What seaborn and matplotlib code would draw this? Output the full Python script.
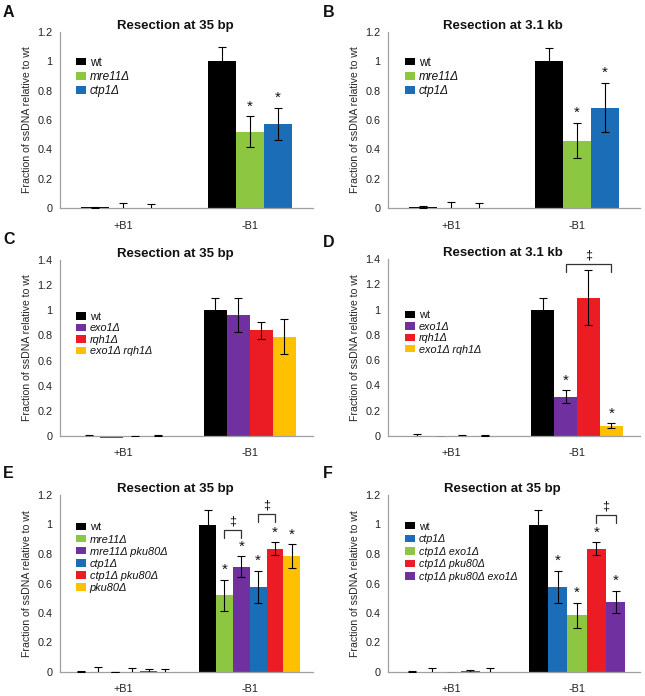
import matplotlib
matplotlib.use("Agg")
import matplotlib.pyplot as plt
from matplotlib.ticker import FuncFormatter, FixedLocator
from matplotlib.patches import Patch
import seaborn as sns
import pandas as pd

groups = ["+B1", "-B1"]

strain_colors = {
    "wt": "#000000",
    "mre11Δ": "#8DC641",
    "ctp1Δ": "#1A6DB6",
    "exo1Δ": "#7030A0",
    "rqh1Δ": "#EC1C24",
    "exo1Δ rqh1Δ": "#FFC000",
    "mre11Δ pku80Δ": "#7030A0",
    "ctp1Δ pku80Δ": "#EC1C24",
    "pku80Δ": "#FFC000",
    "ctp1Δ exo1Δ": "#8DC641",
    "ctp1Δ pku80Δ exo1Δ": "#7030A0",
}

# panel A - resection at 35 bp
a_strains = ["wt", "mre11Δ", "ctp1Δ"]
a_plus = [0.004, -0.006, 0.0]
a_plus_err = [0.004, 0.04, 0.025]
a_minus = [1.0, 0.52, 0.575]
a_minus_err = [0.1, 0.105, 0.11]
a_stars = ["mre11Δ", "ctp1Δ"]
a_brackets = []

# panel B - resection at 3.1 kb
b_strains = ["wt", "mre11Δ", "ctp1Δ"]
b_plus = [0.005, -0.008, 0.001]
b_plus_err = [0.007, 0.05, 0.032]
b_minus = [1.0, 0.46, 0.685]
b_minus_err = [0.09, 0.12, 0.17]
b_stars = ["mre11Δ", "ctp1Δ"]
b_brackets = []

# panel C - resection at 35 bp
c_strains = ["wt", "exo1Δ", "rqh1Δ", "exo1Δ rqh1Δ"]
c_plus = [0.003, -0.012, -0.01, 0.002]
c_plus_err = [0.007, 0.0, 0.012, 0.003]
c_minus = [1.0, 0.96, 0.84, 0.79]
c_minus_err = [0.1, 0.135, 0.065, 0.14]
c_stars = []
c_brackets = []

# panel D - resection at 3.1 kb
d_strains = ["wt", "exo1Δ", "rqh1Δ", "exo1Δ rqh1Δ"]
d_plus = [0.003, -0.008, -0.008, 0.002]
d_plus_err = [0.01, 0.0, 0.012, 0.004]
d_minus = [1.0, 0.31, 1.095, 0.08]
d_minus_err = [0.09, 0.05, 0.215, 0.02]
d_stars = ["exo1Δ", "exo1Δ rqh1Δ"]
d_brackets = [("exo1Δ", "exo1Δ rqh1Δ", 1.36)]

# panel E - resection at 35 bp
e_strains = ["wt", "mre11Δ", "mre11Δ pku80Δ", "ctp1Δ", "ctp1Δ pku80Δ", "pku80Δ"]
e_plus = [0.003, -0.004, 0.0, 0.0, 0.004, 0.0]
e_plus_err = [0.005, 0.035, 0.002, 0.03, 0.015, 0.02]
e_minus = [1.0, 0.52, 0.715, 0.575, 0.835, 0.785]
e_minus_err = [0.1, 0.105, 0.07, 0.11, 0.045, 0.08]
e_stars = ["mre11Δ", "mre11Δ pku80Δ", "ctp1Δ", "ctp1Δ pku80Δ", "pku80Δ"]
e_brackets = [("mre11Δ", "mre11Δ pku80Δ", 0.96), ("ctp1Δ", "ctp1Δ pku80Δ", 1.07)]

# panel F - resection at 35 bp
f_strains = ["wt", "ctp1Δ", "ctp1Δ exo1Δ", "ctp1Δ pku80Δ", "ctp1Δ pku80Δ exo1Δ"]
f_plus = [0.003, 0.0, -0.005, 0.004, 0.0]
f_plus_err = [0.005, 0.025, 0.0, 0.012, 0.03]
f_minus = [1.0, 0.575, 0.385, 0.835, 0.475]
f_minus_err = [0.1, 0.11, 0.085, 0.045, 0.075]
f_stars = ["ctp1Δ", "ctp1Δ exo1Δ", "ctp1Δ pku80Δ", "ctp1Δ pku80Δ exo1Δ"]
f_brackets = [("ctp1Δ pku80Δ", "ctp1Δ pku80Δ exo1Δ", 1.064)]

W, H = 645, 696


def px_axes(fig, left, right, top, bottom):
    return fig.add_axes([left / W, 1 - bottom / H, (right - left) / W, (bottom - top) / H])


def draw_panel(ax, title, strains, plus, plus_err, minus, minus_err, stars, brackets,
               ymax, leg_xy, leg_size, leg_space):
    rows = []
    for s, p, pe, m, me in zip(strains, plus, plus_err, minus, minus_err):
        rows.append({"group": groups[0], "strain": s, "value": p, "err": pe})
        rows.append({"group": groups[1], "strain": s, "value": m, "err": me})
    df = pd.DataFrame(rows)
    n = len(strains)
    pal = [strain_colors[s] for s in strains]
    sns.barplot(data=df, x="group", y="value", hue="strain", order=groups, hue_order=strains,
                palette=pal, saturation=1, width=n / (n + 1.5), errorbar=None,
                legend=False, ax=ax, linewidth=0)

    centers = {}
    tops = {}
    for s, cont in zip(strains, ax.containers):
        for g, bar in zip(groups, cont):
            bar.set_clip_on(False)
            cx = bar.get_x() + bar.get_width() / 2
            row = df[(df.strain == s) & (df.group == g)].iloc[0]
            ax.errorbar(cx, row.value, yerr=row.err, fmt="none", ecolor="black",
                        elinewidth=0.8, capsize=3, capthick=0.8, zorder=3)
            if g == groups[1]:
                centers[s] = cx
                tops[s] = row.value + row.err

    for s in stars:
        ax.annotate("*", (centers[s], tops[s]), xytext=(0, 2), textcoords="offset points",
                    ha="center", va="bottom", fontsize=11)

    h = 0.045 * ymax
    for s1, s2, yb in brackets:
        x1, x2 = centers[s1], centers[s2]
        ax.plot([x1, x1, x2, x2], [yb - h, yb, yb, yb - h], color="#333333", lw=0.9,
                clip_on=False)
        ax.annotate("‡", ((x1 + x2) / 2, yb), xytext=(0, 2), textcoords="offset points",
                    ha="center", va="bottom", fontsize=9)

    ax.set_ylim(0, ymax)
    ax.set_xlim(-0.5, 1.5)
    ax.yaxis.set_major_locator(FixedLocator([i * 0.2 for i in range(int(round(ymax / 0.2)) + 1)]))
    ax.yaxis.set_major_formatter(FuncFormatter(lambda v, pos: "%g" % round(v, 2)))
    ax.set_xticks([0, 1])
    ax.set_xticklabels(groups)
    ax.xaxis.set_minor_locator(FixedLocator([-0.5, 0.5, 1.5]))
    ax.tick_params(axis="x", which="major", length=0, labelsize=7.8, pad=9)
    ax.tick_params(axis="x", which="minor", length=4, color="#A0A0A0", direction="out")
    ax.tick_params(axis="y", length=3, color="#A0A0A0", direction="out", labelsize=7.8, pad=2.5)
    for side in ["top", "right"]:
        ax.spines[side].set_visible(False)
    for side in ["left", "bottom"]:
        ax.spines[side].set_color("#A0A0A0")
        ax.spines[side].set_linewidth(0.9)
    ax.set_xlabel("")
    ax.set_ylabel("Fraction of ssDNA relative to wt", fontsize=7.6, labelpad=4)
    ax.set_title(title, fontsize=9.5, fontweight="bold", x=0.455, pad=2)
    ax.grid(False)

    # legend squares are about 10 x 7 px
    em_px = leg_size * 100 / 72
    handles = [Patch(facecolor=strain_colors[s], edgecolor="none") for s in strains]
    leg = ax.legend(handles, strains, loc="upper left", bbox_to_anchor=leg_xy, frameon=False,
                    fontsize=leg_size, handlelength=10 / em_px, handleheight=7.3 / em_px,
                    handletextpad=0.35, labelspacing=leg_space, borderpad=0, borderaxespad=0)
    for t in leg.get_texts():
        if t.get_text() != "wt":
            t.set_fontstyle("italic")


sns.set_style("white")
plt.rcParams["font.family"] = ["Liberation Sans", "DejaVu Sans"]
plt.rcParams["text.color"] = "#111111"
plt.rcParams["xtick.color"] = "#222222"
plt.rcParams["ytick.color"] = "#222222"

fig = plt.figure(figsize=(W / 100, H / 100), dpi=100)

panels = [
    ("A", (3, 5), px_axes(fig, 60, 313, 32, 208), "Resection at 35 bp",
     a_strains, a_plus, a_plus_err, a_minus, a_minus_err, a_stars, a_brackets, 1.2,
     (0.063, 0.86), 8.5, 0.2),
    ("B", (323, 5), px_axes(fig, 388, 640, 32, 208), "Resection at 3.1 kb",
     b_strains, b_plus, b_plus_err, b_minus, b_minus_err, b_stars, b_brackets, 1.2,
     (0.067, 0.86), 8.5, 0.2),
    ("C", (3, 232), px_axes(fig, 60, 313, 260, 436), "Resection at 35 bp",
     c_strains, c_plus, c_plus_err, c_minus, c_minus_err, c_stars, c_brackets, 1.4,
     (0.063, 0.705), 7.8, 0.13),
    ("D", (323, 235), px_axes(fig, 388, 640, 259, 436), "Resection at 3.1 kb",
     d_strains, d_plus, d_plus_err, d_minus, d_minus_err, d_stars, d_brackets, 1.4,
     (0.067, 0.71), 7.8, 0.13),
    ("E", (3, 466), px_axes(fig, 60, 313, 495, 672), "Resection at 35 bp",
     e_strains, e_plus, e_plus_err, e_minus, e_minus_err, e_stars, e_brackets, 1.2,
     (0.063, 0.845), 7.9, 0.19),
    ("F", (323, 466), px_axes(fig, 388, 640, 495, 672), "Resection at 35 bp",
     f_strains, f_plus, f_plus_err, f_minus, f_minus_err, f_stars, f_brackets, 1.2,
     (0.067, 0.85), 7.7, 0.24),
]

for letter, (lx, ly), ax, *args in panels:
    draw_panel(ax, *args)
    fig.text(lx / W, 1 - ly / H, letter, ha="left", va="top", fontsize=11.5, fontweight="bold")

fig.savefig("out.png", dpi=100)
